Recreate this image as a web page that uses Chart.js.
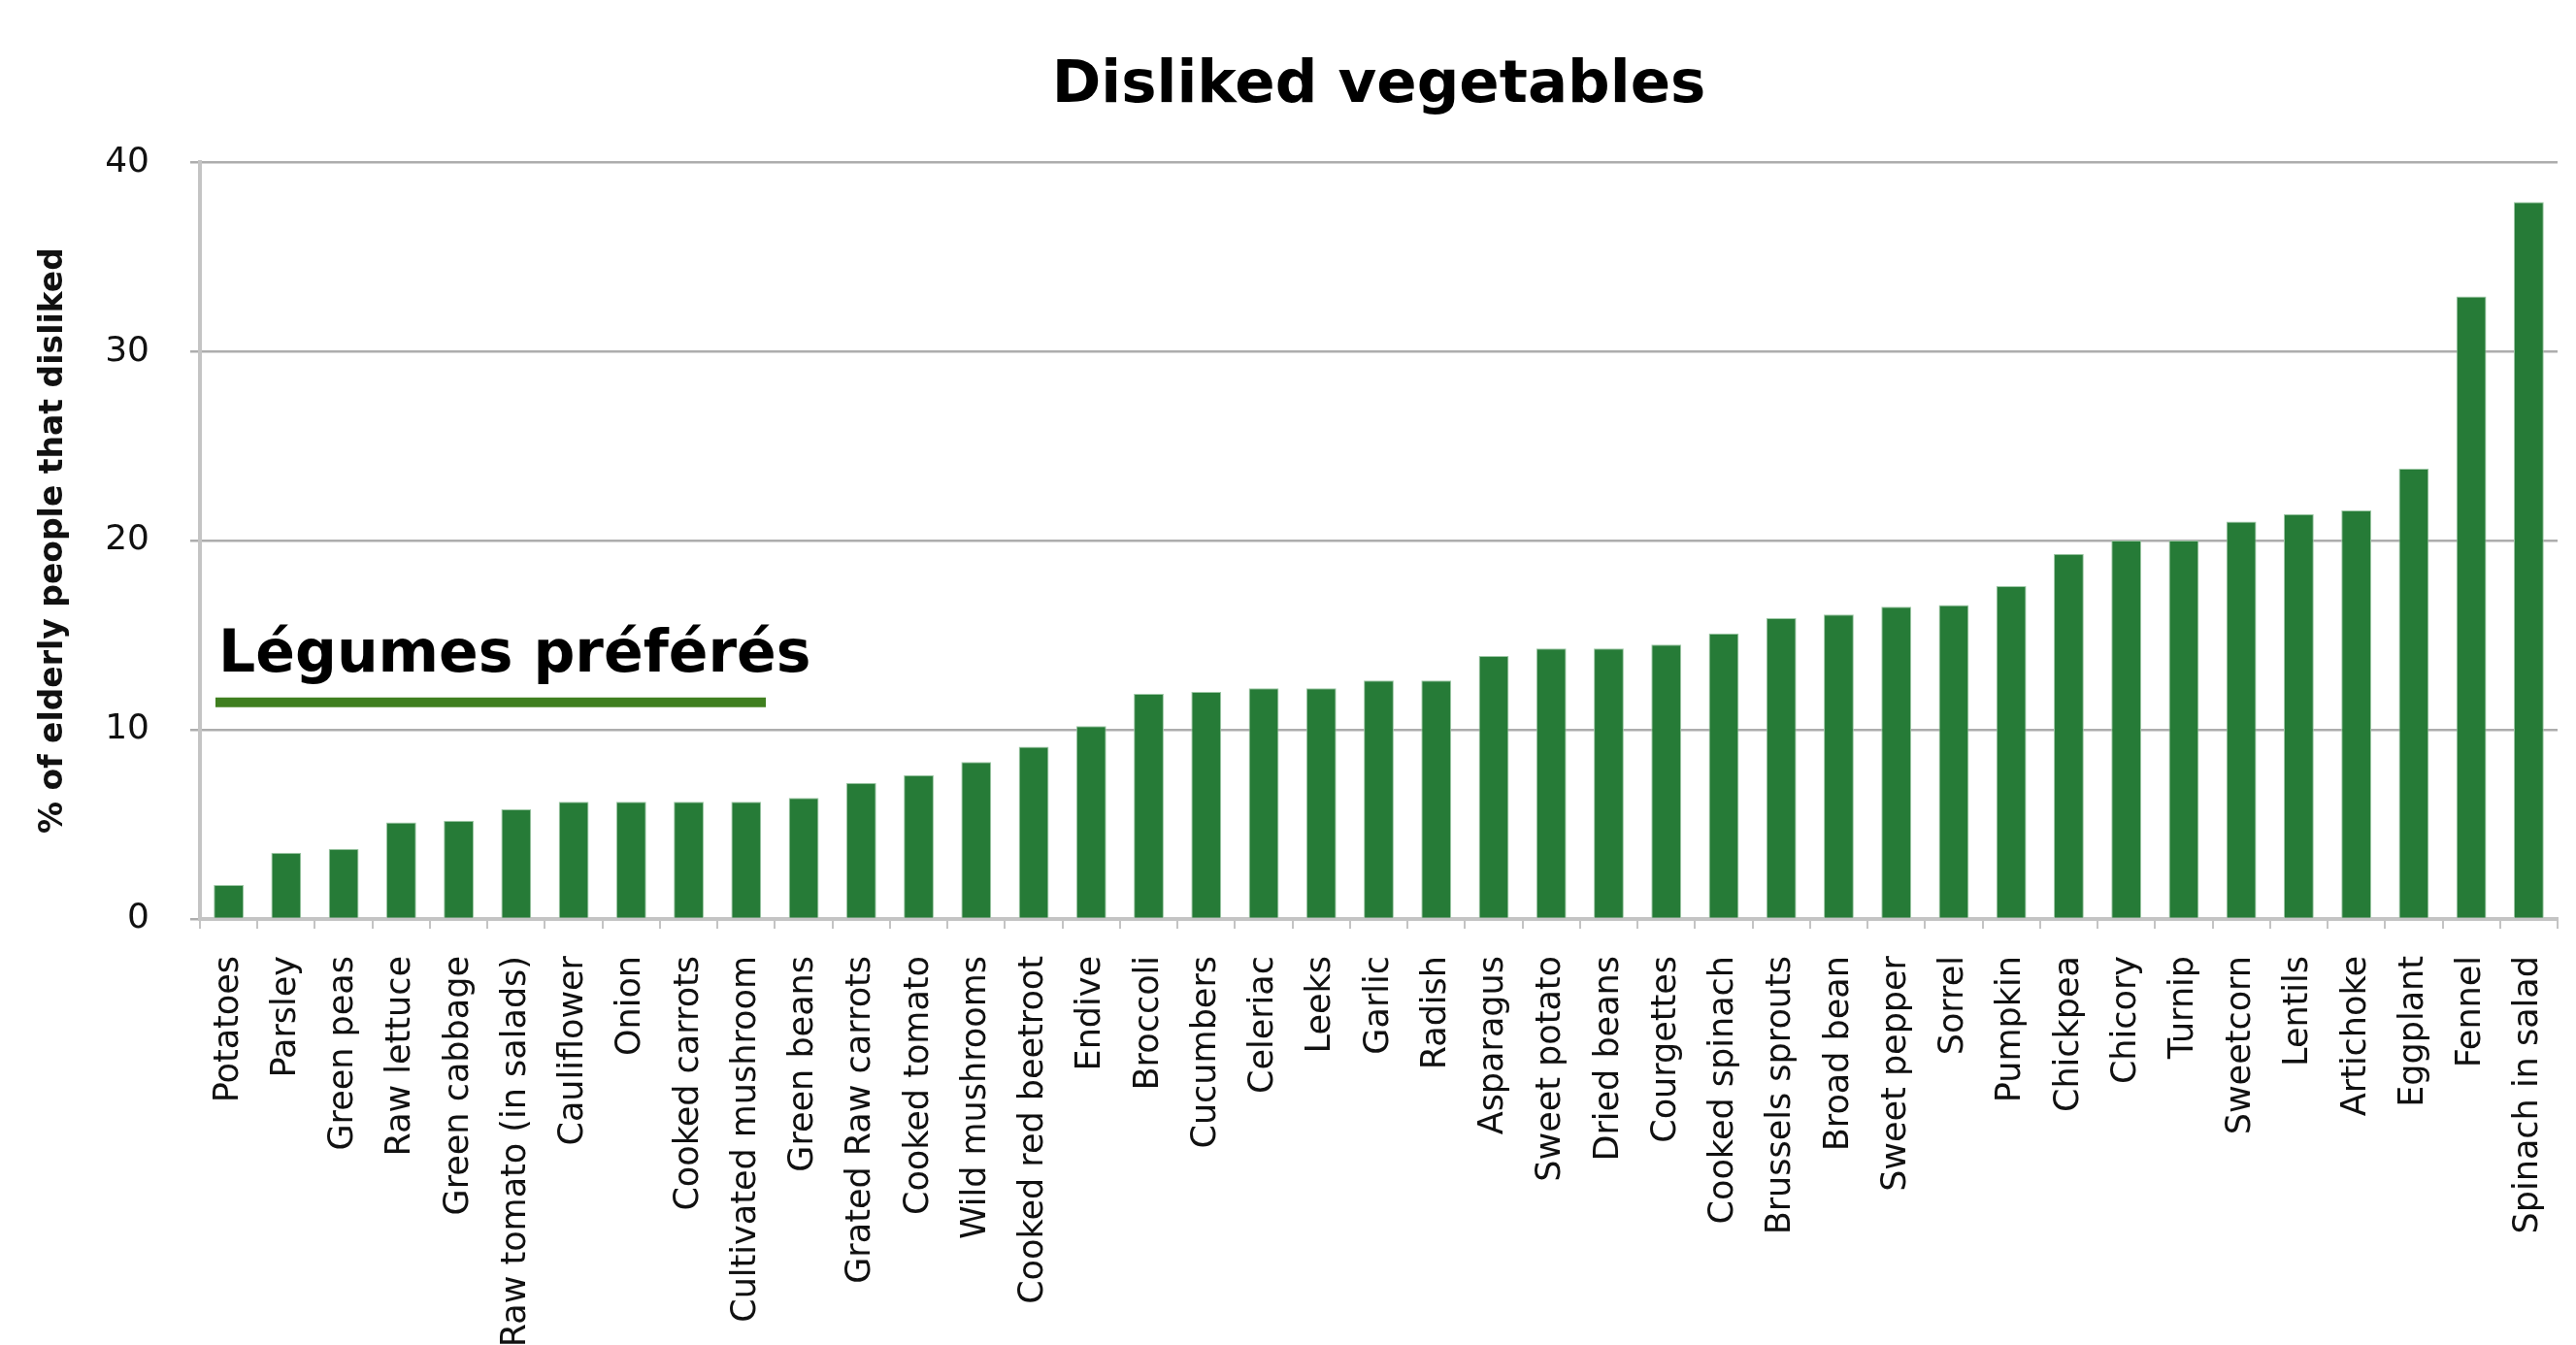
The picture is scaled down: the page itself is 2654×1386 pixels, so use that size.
<!DOCTYPE html>
<html>
<head>
<meta charset="utf-8">
<script src="https://cdn.jsdelivr.net/npm/chart.js@4.4.1/dist/chart.umd.min.js"></script>
<style>
html,body{margin:0;padding:0;background:#ffffff;}
#wrap{width:2654px;height:1386px;position:relative;}
</style>
</head>
<body>
<div id="wrap"><canvas id="c" width="2654" height="1386"></canvas></div>
<script>
// ---- data ----
const categories = [
  'Potatoes','Parsley','Green peas','Raw lettuce','Green cabbage','Raw tomato (in salads)',
  'Cauliflower','Onion','Cooked carrots','Cultivated mushroom','Green beans','Grated Raw carrots',
  'Cooked tomato','Wild mushrooms','Cooked red beetroot','Endive','Broccoli','Cucumbers',
  'Celeriac','Leeks','Garlic','Radish','Asparagus','Sweet potato','Dried beans','Courgettes',
  'Cooked spinach','Brussels sprouts','Broad bean','Sweet pepper','Sorrel','Pumpkin','Chickpea',
  'Chicory','Turnip','Sweetcorn','Lentils','Artichoke','Eggplant','Fennel','Spinach in salad'
];
const dislikedPct = [
  1.8, 3.5, 3.7, 5.1, 5.2, 5.8,
  6.2, 6.2, 6.2, 6.2, 6.4, 7.2,
  7.6, 8.3, 9.1, 10.2, 11.9, 12.0,
  12.2, 12.2, 12.6, 12.6, 13.9, 14.3, 14.3, 14.5,
  15.1, 15.9, 16.1, 16.5, 16.6, 17.6, 19.3,
  20.0, 20.0, 21.0, 21.4, 21.6, 23.8, 32.9, 37.9
];
const yTickValues = [0, 10, 20, 30, 40];
const chartTitle = 'Disliked vegetables';
const yAxisTitle = '% of elderly people that disliked';
const annotationText = 'Légumes préférés';

// ---- styles ----
const FONT = "'DejaVu Sans', 'Liberation Sans', sans-serif";
const BAR_COLOR = '#267b37';
const LINE_GREEN = '#3f7f1f';

const annotationPlugin = {
  id: 'annot',
  afterDraw(chart) {
    const ctx = chart.ctx;
    const area = chart.chartArea;
    const y = chart.scales.y;
    ctx.save();
    ctx.fillStyle = '#000000';
    ctx.font = "bold 60px " + FONT;
    ctx.textAlign = 'left';
    ctx.textBaseline = 'alphabetic';
    ctx.fillText(annotationText, area.left + 19, y.getPixelForValue(13.1));
    ctx.strokeStyle = LINE_GREEN;
    ctx.lineWidth = 10;
    ctx.beginPath();
    const ly = y.getPixelForValue(11.45);
    ctx.moveTo(area.left + 16, ly);
    ctx.lineTo(area.left + 583, ly);
    ctx.stroke();
    ctx.restore();
  }
};

new Chart(document.getElementById('c'), {
  type: 'bar',
  data: {
    labels: categories,
    datasets: [{
      data: dislikedPct,
      backgroundColor: BAR_COLOR,
      borderColor: '#9cc7a4',
      borderWidth: 1,
      borderSkipped: 'start',
      categoryPercentage: 1.0,
      barPercentage: 0.52
    }]
  },
  options: {
    responsive: false,
    animation: false,
    devicePixelRatio: 1,
    layout: { padding: { left: 0, right: 19, top: 0, bottom: 0 } },
    plugins: {
      legend: { display: false },
      tooltip: { enabled: false },
      title: {
        display: true,
        text: chartTitle,
        fullSize: false,
        color: '#000000',
        font: { family: FONT, size: 61, weight: 'bold' },
        padding: { top: 53, bottom: 41 }
      }
    },
    scales: {
      x: {
        offset: true,
        grid: {
          display: true,
          drawOnChartArea: false,
          drawTicks: true,
          tickLength: 10,
          lineWidth: 2,
          color: '#c4c4c4',
          offset: true
        },
        border: { display: true, color: '#c4c4c4', width: 4 },
        ticks: {
          autoSkip: false,
          minRotation: 90,
          maxRotation: 90,
          padding: 28,
          color: '#111111',
          font: { family: FONT, size: 35 }
        },
        afterFit(scale) {
          scale.height = 439;
          scale.paddingLeft = 0;
          scale.paddingRight = 0;
        }
      },
      y: {
        min: 0,
        max: 40,
        afterBuildTicks(scale) { scale.ticks = yTickValues.map(v => ({ value: v })); },
        grid: {
          color: '#adadad',
          lineWidth: 2.5,
          drawTicks: true,
          tickLength: 10
        },
        border: { display: true, color: '#c4c4c4', width: 4 },
        ticks: {
          padding: 42,
          color: '#111111',
          font: { family: FONT, size: 36 }
        },
        title: {
          display: true,
          text: yAxisTitle,
          color: '#111111',
          font: { family: FONT, size: 33, weight: 'bold' },
          padding: { top: 36, bottom: 0 }
        },
        afterFit(scale) { scale.width = 206; }
      }
    }
  },
  plugins: [annotationPlugin]
});
</script>
</body>
</html>
